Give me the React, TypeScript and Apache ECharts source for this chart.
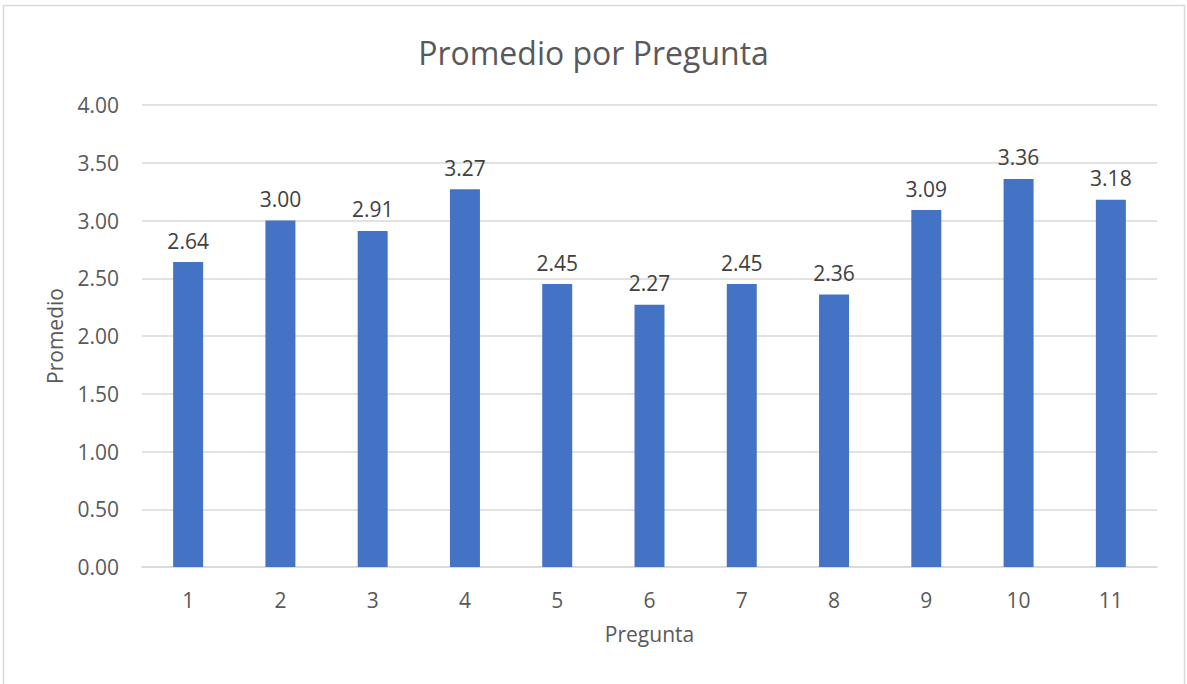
import React, { useEffect, useRef } from "react";
import * as echarts from "echarts";

const preguntas = ["1", "2", "3", "4", "5", "6", "7", "8", "9", "10", "11"];
const promedios = [2.64, 3.0, 2.91, 3.27, 2.45, 2.27, 2.45, 2.36, 3.09, 3.36, 3.18];

const FONT = "'Open Sans', 'Liberation Sans', sans-serif";
const GREY = "#595959";

export default function App() {
  const ref = useRef<HTMLDivElement>(null);

  useEffect(() => {
    document.body.style.margin = "0";
    const chart = echarts.init(ref.current!, null, { renderer: "svg" });
    chart.setOption({
      animation: false,
      backgroundColor: "#ffffff",
      textStyle: { fontFamily: FONT },
      title: {
        text: "Promedio por Pregunta",
        left: "center",
        top: 31,
        textStyle: { fontFamily: FONT, fontSize: 32, fontWeight: "normal", color: GREY },
      },
      graphic: [
        {
          type: "rect",
          shape: { x: 3.5, y: 5.5, width: 1181, height: 690 },
          style: { fill: "none", stroke: "#d9d9d9", lineWidth: 1.5 },
          silent: true,
        },
      ],
      grid: { left: 142, right: 30, top: 105, bottom: 117 },
      xAxis: {
        type: "category",
        data: preguntas,
        name: "Pregunta",
        nameLocation: "middle",
        nameGap: 56,
        nameTextStyle: { fontFamily: FONT, fontSize: 21, color: GREY },
        axisLine: { show: true, lineStyle: { color: "#d9d9d9", width: 1.5 } },
        axisTick: { show: false },
        axisLabel: { fontFamily: FONT, fontSize: 21, color: GREY, margin: 22 },
      },
      yAxis: {
        type: "value",
        min: 0,
        max: 4,
        interval: 0.5,
        name: "Promedio",
        nameLocation: "middle",
        nameGap: 77,
        nameTextStyle: { fontFamily: FONT, fontSize: 21, color: GREY },
        axisLine: { show: false },
        axisTick: { show: false },
        splitLine: { lineStyle: { color: "#d9d9d9", width: 1.5 } },
        axisLabel: {
          fontFamily: FONT,
          fontSize: 21,
          color: GREY,
          margin: 23,
          formatter: (v: number) => v.toFixed(2),
        },
      },
      series: [
        {
          type: "bar",
          data: promedios,
          barWidth: "32.5%",
          itemStyle: { color: "#4472c4" },
          label: {
            show: true,
            position: "top",
            distance: 11,
            fontFamily: FONT,
            fontSize: 21,
            color: "#404040",
            formatter: (p: any) => Number(p.value).toFixed(2),
          },
        },
      ],
    });
    return () => chart.dispose();
  }, []);

  return <div ref={ref} style={{ width: 1187, height: 684 }} />;
}
